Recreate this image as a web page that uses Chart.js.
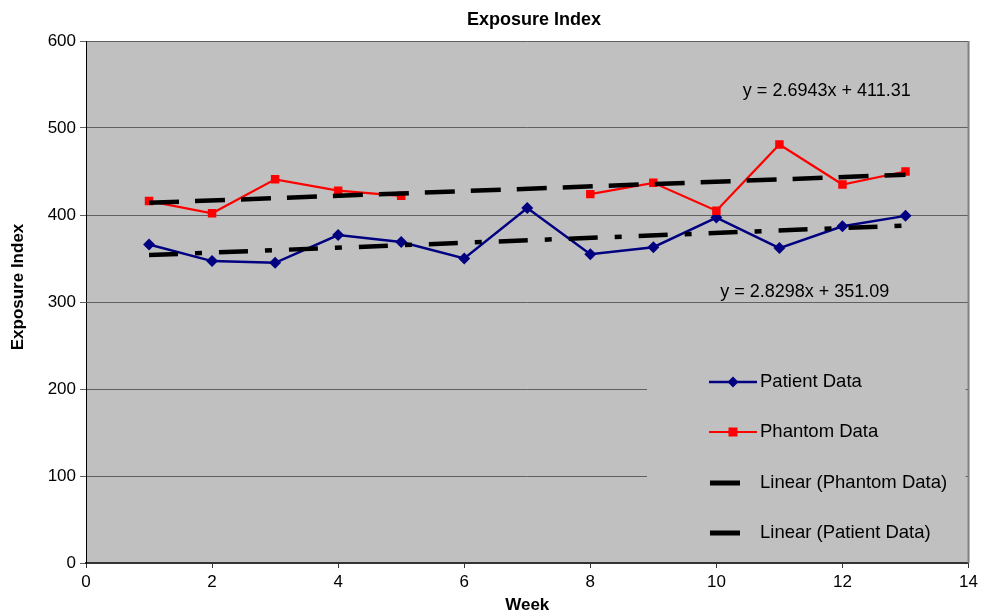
<!DOCTYPE html>
<html>
<head>
<meta charset="utf-8">
<script src="https://cdn.jsdelivr.net/npm/chart.js@4/dist/chart.umd.min.js"></script>
<style>
  html, body { margin: 0; padding: 0; background: #ffffff; }
  #wrap { width: 982px; height: 615px; }
</style>
</head>
<body>
<div id="wrap"><canvas id="chart" width="982" height="615"></canvas></div>
<script>
// Weekly exposure index readings
const weeks = [1, 2, 3, 4, 5, 6, 7, 8, 9, 10, 11, 12, 13];
const patientData = [366, 347, 345, 377, 369, 350, 408, 355, 363, 397, 362, 387, 399];
const phantomData = [416, 402, 441, 428, 422, null, null, 424, 437, 405, 481, 435, 450];

// Linear fits: [slope, intercept]
const phantomFit = [2.6943, 411.31];
const patientFit = [2.8298, 351.09];
const fitRange = [1, 13];

// Fit equation labels, anchored at [week, exposure index]
const phantomEqText = 'y = 2.6943x + 411.31';
const phantomEqAt = [10.42, 543];
const patientEqText = 'y = 2.8298x + 351.09';
const patientEqAt = [10.06, 311];

// Axis ranges and tick steps
const xRange = [0, 14];
const xStep = 2;
const yRange = [0, 600];
const yStep = 100;

const chartTitle = 'Exposure Index';
const xTitle = 'Week';
const yTitle = 'Exposure Index';
const seriesNames = ['Patient Data', 'Phantom Data', 'Linear (Phantom Data)', 'Linear (Patient Data)'];

const FONT = "'Liberation Sans', Arial, Helvetica, sans-serif";
const PLOT_BG = '#c0c0c0';
const NAVY = '#000080';
const RED = '#ff0000';
const PATIENT_DASH = [29, 17, 7, 17];
const PHANTOM_DASH = [30, 16];

const toPoints = (vals) => weeks.map((w, i) => ({ x: w, y: vals[i] }));
const fitPoints = (fit) => fitRange.map(x => ({ x: x, y: fit[0] * x + fit[1] }));

const frame = {
  id: 'frame',
  beforeDraw(chart) {
    const { ctx, chartArea: a } = chart;
    ctx.save();
    ctx.fillStyle = PLOT_BG;
    ctx.fillRect(a.left, a.top, a.right - a.left, a.bottom - a.top);
    ctx.restore();
  },
  beforeDatasetsDraw(chart) {
    const { ctx, chartArea: a } = chart;
    // legend panel sits inside the plot and hides the grid behind it
    ctx.save();
    ctx.fillStyle = PLOT_BG;
    ctx.fillRect(647, 354, a.right - 3 - 647, a.bottom - 2 - 354);
    // right edge of the plot
    ctx.strokeStyle = '#808080';
    ctx.lineWidth = 2;
    ctx.beginPath();
    ctx.moveTo(a.right, a.top);
    ctx.lineTo(a.right, a.bottom);
    ctx.stroke();
    ctx.restore();
  },
  afterDraw(chart) {
    const { ctx, chartArea: a, scales } = chart;
    ctx.save();
    ctx.fillStyle = '#000';
    ctx.textBaseline = 'middle';

    // titles
    ctx.textAlign = 'center';
    ctx.font = `bold 18px ${FONT}`;
    ctx.fillText(chartTitle, 534, 20);
    ctx.font = `bold 17px ${FONT}`;
    ctx.fillText(xTitle, (a.left + a.right) / 2, 605);
    ctx.save();
    ctx.translate(18, 287);
    ctx.rotate(-Math.PI / 2);
    ctx.fillText(yTitle, 0, 0);
    ctx.restore();

    // fit equations
    ctx.textAlign = 'left';
    ctx.font = `18px ${FONT}`;
    ctx.fillText(phantomEqText, scales.x.getPixelForValue(phantomEqAt[0]), scales.y.getPixelForValue(phantomEqAt[1]));
    ctx.fillText(patientEqText, scales.x.getPixelForValue(patientEqAt[0]), scales.y.getPixelForValue(patientEqAt[1]));

    // legend
    const rows = [382, 432, 483, 533];
    const x0 = 709, x1 = 757, tx = 760;
    ctx.lineCap = 'butt';
    // patient
    ctx.strokeStyle = NAVY; ctx.lineWidth = 2.5;
    ctx.beginPath(); ctx.moveTo(x0, rows[0]); ctx.lineTo(x1, rows[0]); ctx.stroke();
    ctx.fillStyle = NAVY;
    const cx = (x0 + x1) / 2;
    ctx.beginPath();
    ctx.moveTo(cx, rows[0] - 5.5); ctx.lineTo(cx + 5.5, rows[0]); ctx.lineTo(cx, rows[0] + 5.5); ctx.lineTo(cx - 5.5, rows[0]);
    ctx.closePath(); ctx.fill();
    // phantom
    ctx.strokeStyle = RED; ctx.lineWidth = 2;
    ctx.beginPath(); ctx.moveTo(x0, rows[1]); ctx.lineTo(x1, rows[1]); ctx.stroke();
    ctx.fillStyle = RED;
    ctx.fillRect(cx - 4.5, rows[1] - 4.5, 9, 9);
    // fits
    ctx.strokeStyle = '#000'; ctx.lineWidth = 5;
    ctx.beginPath(); ctx.moveTo(710, rows[2]); ctx.lineTo(740, rows[2]); ctx.stroke();
    ctx.beginPath(); ctx.moveTo(710, rows[3]); ctx.lineTo(740, rows[3]); ctx.stroke();

    ctx.fillStyle = '#000';
    ctx.font = `18.5px ${FONT}`;
    seriesNames.forEach((s, i) => ctx.fillText(s, tx, rows[i]));
    ctx.restore();
  }
};

new Chart(document.getElementById('chart'), {
  type: 'scatter',
  data: {
    datasets: [
      {
        label: seriesNames[2],
        data: fitPoints(phantomFit),
        showLine: true,
        borderColor: '#000',
        borderWidth: 4.5,
        borderDash: PHANTOM_DASH,
        pointRadius: 0,
        order: 0
      },
      {
        label: seriesNames[3],
        data: fitPoints(patientFit),
        showLine: true,
        borderColor: '#000',
        borderWidth: 4.5,
        borderDash: PATIENT_DASH,
        pointRadius: 0,
        order: 0
      },
      {
        label: seriesNames[1],
        data: toPoints(phantomData),
        showLine: true,
        spanGaps: false,
        borderColor: RED,
        backgroundColor: RED,
        borderWidth: 2.2,
        pointStyle: 'rect',
        pointRadius: 6,
        pointBorderWidth: 0,
        order: 1
      },
      {
        label: seriesNames[0],
        data: toPoints(patientData),
        showLine: true,
        borderColor: NAVY,
        backgroundColor: NAVY,
        borderWidth: 2.5,
        pointStyle: 'rectRot',
        pointRadius: 6,
        pointBorderWidth: 0,
        order: 2
      }
    ]
  },
  options: {
    responsive: false,
    animation: false,
    layout: { padding: { top: 41, right: 13, bottom: 0, left: 0 } },
    plugins: {
      legend: { display: false },
      title: { display: false },
      tooltip: { enabled: false }
    },
    scales: {
      x: {
        type: 'linear',
        min: xRange[0],
        max: xRange[1],
        afterFit(scale) { scale.height = 52; },
        ticks: {
          stepSize: xStep,
          color: '#000',
          font: { family: FONT, size: 17 },
          padding: 4,
          maxRotation: 0
        },
        grid: {
          drawOnChartArea: false,
          drawTicks: true,
          tickLength: 5,
          color: '#333333'
        },
        border: { display: true, color: '#333333', width: 2 }
      },
      y: {
        type: 'linear',
        min: yRange[0],
        max: yRange[1],
        afterFit(scale) { scale.width = 86; },
        ticks: {
          stepSize: yStep,
          color: '#000',
          font: { family: FONT, size: 17 },
          padding: 4
        },
        grid: {
          color: '#606060',
          lineWidth: 1,
          drawTicks: true,
          tickLength: 6
        },
        border: { display: true, color: '#000', width: 1 }
      }
    }
  },
  plugins: [frame]
});
</script>
</body>
</html>
